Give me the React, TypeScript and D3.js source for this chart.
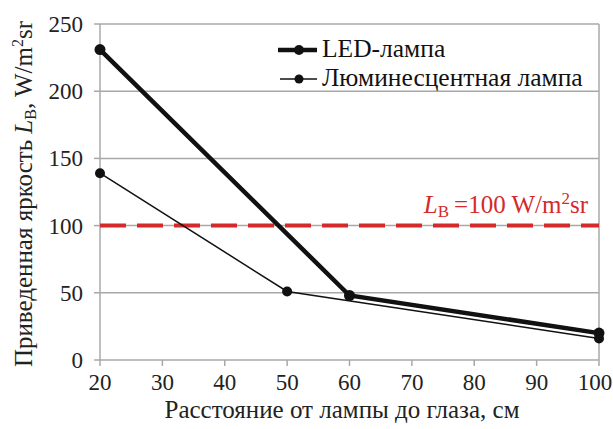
import React from "react";
import * as d3 from "d3";

const ledX = [20, 60, 100];
const ledY = [231, 48, 20];
const fluX = [20, 50, 100];
const fluY = [139, 51, 16];
const xTicks = [20, 30, 40, 50, 60, 70, 80, 90, 100];
const yTicks = [0, 50, 100, 150, 200, 250];
const limitValue = 100;
const seriesNames = ["LED-лампа", "Люминесцентная лампа"];

const W = 613, H = 429;
const FONT = "Liberation Serif";

export default function App() {
  const x = d3.scaleLinear().domain([20, 100]).range([100, 599]);
  const y = d3.scaleLinear().domain([0, 250]).range([360, 24]);
  const line = d3.line<[number, number]>().x(d => x(d[0])).y(d => y(d[1]));
  const led = ledX.map((v, i) => [v, ledY[i]] as [number, number]);
  const flu = fluX.map((v, i) => [v, fluY[i]] as [number, number]);
  const grid = "#a8a8a8";
  const red = "#d42a2a";
  const ts = { fontFamily: FONT };
  return (
    <svg width={W} height={H} style={{ position: "absolute", left: 0, top: 0, background: "#fff" }}>
      <rect x={0} y={0} width={W} height={H} fill="#fff" />
      {yTicks.map(t => (
        <g key={t}>
          {t > 0 && <line x1={x(20)} x2={x(100)} y1={y(t)} y2={y(t)} stroke={grid} strokeWidth={1.5} />}
          <line x1={x(20) - 6} x2={x(20)} y1={y(t)} y2={y(t)} stroke={grid} strokeWidth={1.5} />
          <text style={ts} x={83} y={y(t) + 8} textAnchor="end" fontSize={23} fill="#222">{t}</text>
        </g>
      ))}
      <line x1={x(100)} x2={x(100)} y1={y(250)} y2={y(0)} stroke={grid} strokeWidth={1.5} />
      <line x1={x(20)} x2={x(20)} y1={y(250)} y2={y(0)} stroke={grid} strokeWidth={1.5} />
      <line x1={x(20)} x2={x(100)} y1={y(0)} y2={y(0)} stroke={grid} strokeWidth={1.5} />
      {xTicks.map(t => (
        <g key={t}>
          <line x1={x(t)} x2={x(t)} y1={y(0)} y2={y(0) + 6} stroke={grid} strokeWidth={1.5} />
          <text style={ts} x={t === 100 ? x(t) - 4 : x(t)} y={y(0) + 30} textAnchor="middle" fontSize={23} fill="#222">{t}</text>
        </g>
      ))}
      <line x1={x(20)} x2={x(100)} y1={y(limitValue)} y2={y(limitValue)} stroke={red} strokeWidth={4} strokeDasharray="26 11" />
      <text style={ts} x={588} y={213} textAnchor="end" fontSize={25} fill={red}>
        <tspan fontStyle="italic">L</tspan>
        <tspan fontSize={17} dy={4}>B</tspan>
        <tspan dy={-4}>{"\u2009=100 W/m"}</tspan>
        <tspan fontSize={17} dy={-9}>2</tspan>
        <tspan dy={9}>sr</tspan>
      </text>
      <path d={line(flu) || ""} fill="none" stroke="#111" strokeWidth={1.5} />
      <path d={line(led) || ""} fill="none" stroke="#111" strokeWidth={4.5} />
      {flu.map((d, i) => <circle key={"f" + i} cx={x(d[0])} cy={y(d[1])} r={5} fill="#111" />)}
      {led.map((d, i) => <circle key={"l" + i} cx={x(d[0])} cy={y(d[1])} r={5.5} fill="#111" />)}
      <g>
        <line x1={278} x2={317} y1={50} y2={50} stroke="#111" strokeWidth={4.5} />
        <circle cx={299} cy={50} r={5} fill="#111" />
        <text style={ts} x={322} y={57} fontSize={25.5} fill="#111">{seriesNames[0]}</text>
        <line x1={280} x2={317} y1={79} y2={79} stroke="#111" strokeWidth={1.5} />
        <circle cx={299} cy={79} r={4.5} fill="#111" />
        <text style={ts} x={322} y={86} fontSize={25.5} fill="#111">{seriesNames[1]}</text>
      </g>
      <text style={ts} x={342} y={418} textAnchor="middle" fontSize={25} fill="#222">Расстояние от лампы до глаза, см</text>
      <text style={ts} transform="translate(32,194) rotate(-90)" textAnchor="middle" fontSize={25} fill="#222">
        <tspan>Приведенная яркость </tspan>
        <tspan fontStyle="italic">L</tspan>
        <tspan fontSize={16} dy={4}>B</tspan>
        <tspan dy={-4}>, W/m</tspan>
        <tspan fontSize={16} dy={-9}>2</tspan>
        <tspan dy={9}>sr</tspan>
      </text>
    </svg>
  );
}
